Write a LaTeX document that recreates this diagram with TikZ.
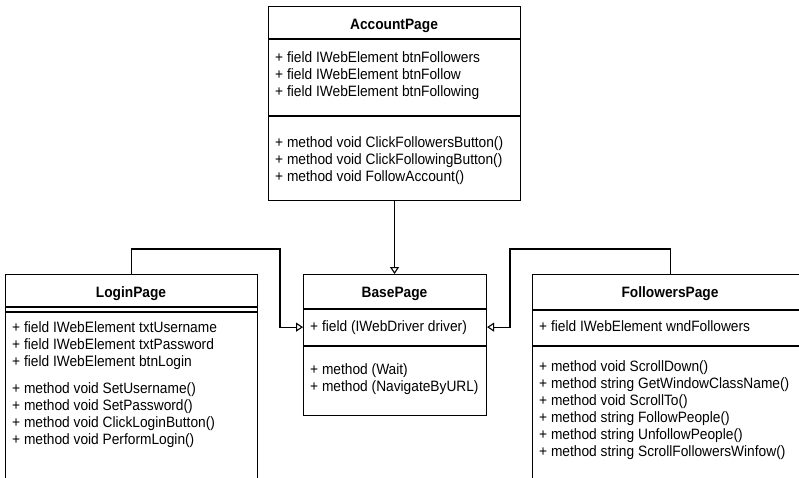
\documentclass[tikz,border=0pt]{standalone}
\usepackage{fontspec}
\setmainfont{Liberation Sans}[FakeStretch=0.916]
\usetikzlibrary{arrows.meta}
\tikzset{
  umlbox/.style={draw=black, line width=1.1pt, fill=white, anchor=north west, inner sep=0pt},
  sepline/.style={line width=1.1pt},
  mem/.style={anchor=base west, inner sep=0pt, font=\fontsize{15}{17}\selectfont},
  ttl/.style={anchor=base, inner sep=0pt, font=\fontsize{15}{17}\selectfont\bfseries},
  inh/.style={line width=1.1pt, -{Triangle[open, length=7pt, width=9pt, line width=1.1pt]}}
}
\begin{document}
\begin{tikzpicture}[x=1pt,y=-1pt]
\useasboundingbox (0,0) rectangle (799,477);
\clip (0,0) rectangle (799,477);

% class boxes
\node[umlbox, minimum width=252pt, minimum height=194pt] (account) at (268,6) {};
\node[umlbox, minimum width=252pt, minimum height=216pt] (login) at (5,274) {};
\node[umlbox, minimum width=183pt, minimum height=141pt] (base) at (303,274) {};
\node[umlbox, minimum width=276pt, minimum height=216pt] (followers) at (532,274) {};

% compartment separators
\draw[sepline] (268,39) -- (520,39);
\draw[sepline] (268,116) -- (520,116);
\draw[sepline] (5,307) -- (257,307);
\draw[sepline] (5,312) -- (257,312);
\draw[sepline] (303,309) -- (486,309);
\draw[sepline] (303,346) -- (486,346);
\draw[sepline] (532,310) -- (808,310);
\draw[sepline] (532,346) -- (808,346);

% titles
\node[ttl] (acct) at (394,29) {AccountPage};
\node[ttl] (logt) at (131,297) {LoginPage};
\node[ttl] (baset) at (394.5,297) {BasePage};
\node[ttl] (folt) at (670,297) {FollowersPage};

% AccountPage members
\foreach \t [count=\i] in {+ field IWebElement btnFollowers, + field IWebElement btnFollow, + field IWebElement btnFollowing}
  \node[mem] (accf\i) at (275,{62+17.3*(\i-1)}) {\t};
\foreach \t [count=\i] in {+ method void ClickFollowersButton(), + method void ClickFollowingButton(), + method void FollowAccount()}
  \node[mem] (accm\i) at (275,{147+17.3*(\i-1)}) {\t};

% LoginPage members
\foreach \t [count=\i] in {+ field IWebElement txtUsername, + field IWebElement txtPassword, + field IWebElement btnLogin}
  \node[mem] (logf\i) at (12,{332+17*(\i-1)}) {\t};
\foreach \t [count=\i] in {+ method void SetUsername(), + method void SetPassword(), + method void ClickLoginButton(), + method void PerformLogin()}
  \node[mem] (logm\i) at (12,{393+17*(\i-1)}) {\t};

% BasePage members
\node[mem] (bfield) at (310,331) {+ field (IWebDriver driver)};
\node[mem] (bm1) at (310,374) {+ method (Wait)};
\node[mem] (bm2) at (310,391.5) {+ method (NavigateByURL)};

% FollowersPage members
\node[mem] (ffield) at (539,331) {+ field IWebElement wndFollowers};
\foreach \t [count=\i] in {+ method void ScrollDown(), + method string GetWindowClassName(), + method void ScrollTo(), + method string FollowPeople(), + method string UnfollowPeople(), + method string ScrollFollowersWinfow()}
  \node[mem] (folm\i) at (539,{371+17*(\i-1)}) {\t};

% inheritance connectors
\coordinate (lbend) at (280,249);
\coordinate (rbend) at (510,249);
\draw[inh] (account.south) -- (account.south |- base.north);
\draw[inh] (login.north) |- (lbend) |- (base.west |- bfield.west);
\draw[inh] (followers.north) |- (rbend) |- (base.east |- bfield.west);
\end{tikzpicture}
\end{document}
